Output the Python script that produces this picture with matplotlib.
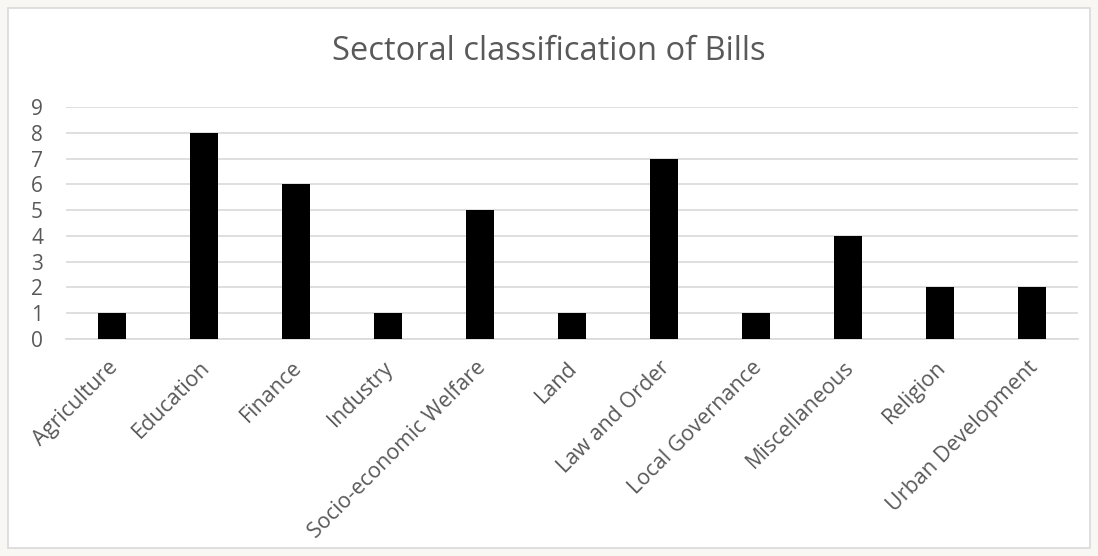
import matplotlib.pyplot as plt
from matplotlib.patches import Rectangle
from matplotlib.transforms import ScaledTranslation

sectors = ['Agriculture', 'Education', 'Finance', 'Industry', 'Socio-economic Welfare',
           'Land', 'Law and Order', 'Local Governance', 'Miscellaneous', 'Religion',
           'Urban Development']
bills = [1, 8, 6, 1, 5, 1, 7, 1, 4, 2, 2]
y_ticks = list(range(0, 10))

W, H = 1098, 556
fig = plt.figure(figsize=(W / 100, H / 100), dpi=100)
fig.patch.set_facecolor('#F8F7F3')

# chart box
fig.patches.append(Rectangle((8 / W, 8 / H), (W - 16) / W, (H - 16) / H,
                             transform=fig.transFigure, facecolor='white',
                             edgecolor='#D9D9D9', linewidth=1.2, zorder=-5))

ax = fig.add_axes([66 / W, (H - 339) / H, (1078 - 66) / W, (339 - 107) / H])
ax.set_facecolor('none')

x = range(len(sectors))
ax.bar(x, bills, width=0.315, color='black', zorder=3)

ax.set_xlim(-0.5, len(sectors) - 0.5)
ax.set_ylim(0, 9)
ax.set_yticks(y_ticks)
ax.yaxis.grid(True, color='#D9D9D9', linewidth=1.2, zorder=0)
ax.set_axisbelow(True)
for s in ['top', 'right', 'left']:
    ax.spines[s].set_visible(False)
ax.spines['bottom'].set_color('#D9D9D9')
ax.spines['bottom'].set_linewidth(1.2)
ax.tick_params(axis='both', length=0, colors='#595959')
ax.tick_params(axis='y', pad=16.5)
ax.set_yticklabels([str(v) for v in y_ticks], family='Open Sans', fontsize=15)

ax.set_xticks(list(x))
ax.set_xticklabels(sectors, rotation=45, ha='right', va='top',
                   rotation_mode='anchor', family='Open Sans', color='#595959',
                   fontsize=15.5)
ax.tick_params(axis='x', pad=13)
shift = ScaledTranslation(-5 / 100, 0, fig.dpi_scale_trans)
for lbl in ax.get_xticklabels():
    lbl.set_transform(lbl.get_transform() + shift)

fig.text(0.5, (H - 52) / H, 'Sectoral classification of Bills', ha='center', va='center',
         fontsize=23.5, color='#595959', family='Open Sans')

fig.savefig('out.png', dpi=100)
